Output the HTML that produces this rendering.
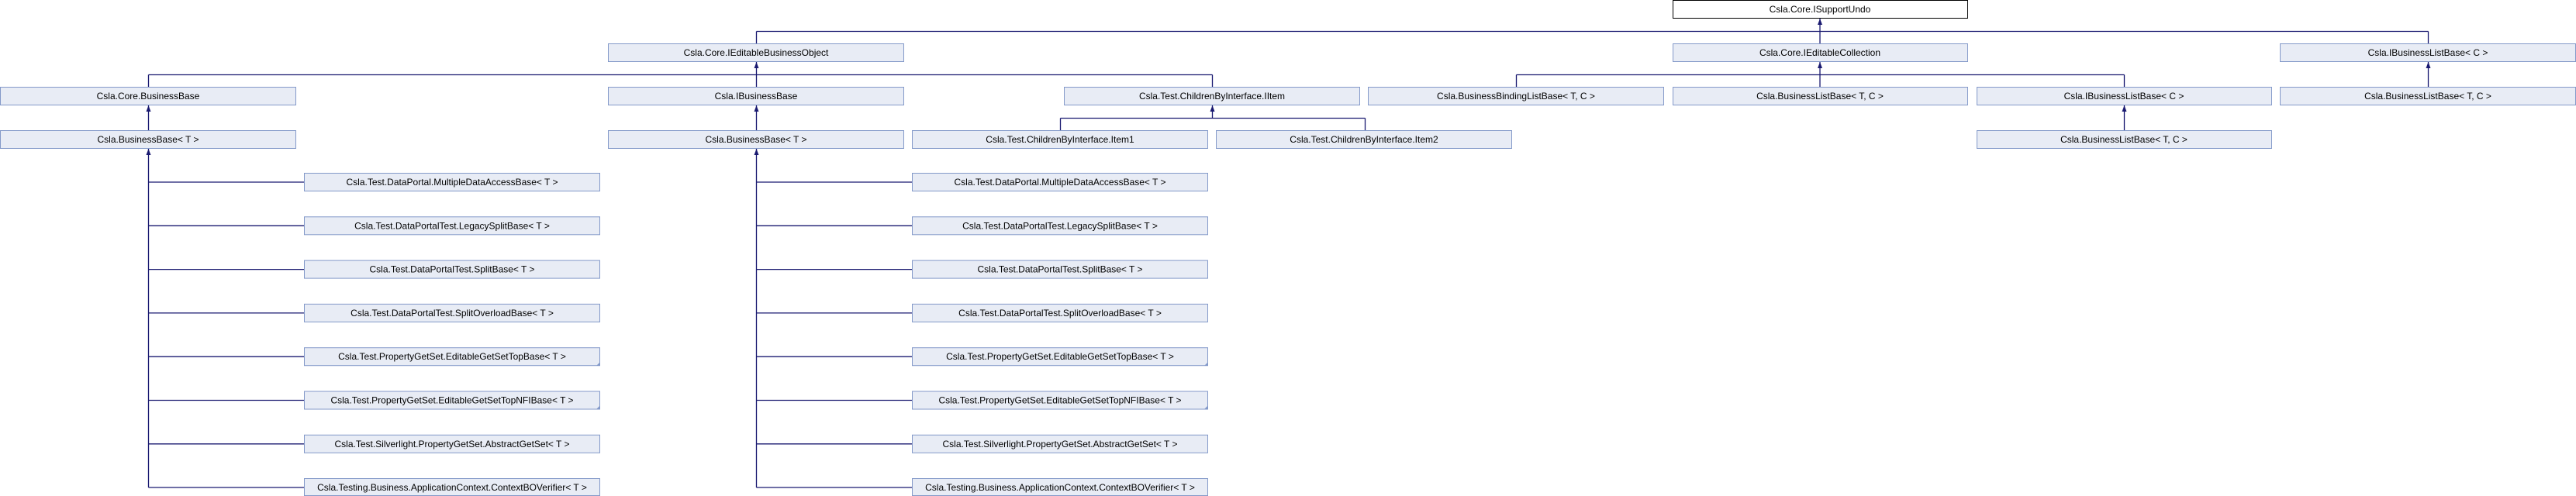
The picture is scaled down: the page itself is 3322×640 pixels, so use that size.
<!DOCTYPE html>
<html><head><meta charset="utf-8"><style>
html,body{margin:0;padding:0;background:#fff;}
svg{display:block;}
text{font-family:"Liberation Sans",Arial,sans-serif;font-size:12px;fill:#000;}
</style></head><body>
<svg width="3322" height="640" viewBox="0 0 3322 640" xmlns="http://www.w3.org/2000/svg">
<g stroke="#191970" stroke-width="1.3" fill="none">
<path d="M2347 24V40.5M975.5 40.5H3131.5M975.5 40.5V56M2347 40.5V56M3131.5 40.5V56"/>
<path d="M975.5 80V96.5M191.5 96.5H1563.5M191.5 96.5V112M975.5 96.5V112M1563.5 96.5V112"/>
<path d="M2347 80V96.5M1955.5 96.5H2739.5M1955.5 96.5V112M2347 96.5V112M2739.5 96.5V112"/>
<path d="M3131.5 80V112"/>
<path d="M191.5 136V168M975.5 136V168M2739.5 136V168"/>
<path d="M1563.5 136V152.5M1367.5 152.5H1760.5M1367.5 152.5V168M1760.5 152.5V168"/>
<path d="M191.5 192V629M975.5 192V629"/>
<path d="M191.5 235H392M191.5 291.3H392M191.5 347.6H392M191.5 403.9H392M191.5 460.2H392M191.5 516.5H392M191.5 572.8H392M191.5 629H392"/>
<path d="M975.5 235H1176M975.5 291.3H1176M975.5 347.6H1176M975.5 403.9H1176M975.5 460.2H1176M975.5 516.5H1176M975.5 572.8H1176M975.5 629H1176"/>
</g>
<g fill="#191970">
<path d="M2347 24l-3 8h6z"/><path d="M975.5 80l-3 8h6z"/><path d="M2347 80l-3 8h6z"/><path d="M3131.5 80l-3 8h6z"/>
<path d="M191.5 136l-3 8h6z"/><path d="M975.5 136l-3 8h6z"/><path d="M2739.5 136l-3 8h6z"/><path d="M1563.5 136l-3 8h6z"/>
<path d="M191.5 192l-3 8h6z"/><path d="M975.5 192l-3 8h6z"/>
</g>
<rect x="2157.5" y="0.5" width="380" height="23" fill="#fff" stroke="#000" stroke-width="1"/>
<text x="2347" y="16" text-anchor="middle">Csla.Core.ISupportUndo</text>
<g fill="#e8ecf5" stroke="#8399c9" stroke-width="1">
<rect x="784.5" y="56.5" width="381" height="23"/>
<rect x="2157.5" y="56.5" width="380" height="23"/>
<rect x="2940.5" y="56.5" width="381" height="23"/>
<rect x="0.5" y="112.5" width="381" height="23"/>
<rect x="784.5" y="112.5" width="381" height="23"/>
<rect x="1372.5" y="112.5" width="381" height="23"/>
<rect x="1764.5" y="112.5" width="381" height="23"/>
<rect x="2157.5" y="112.5" width="380" height="23"/>
<rect x="2549.5" y="112.5" width="380" height="23"/>
<rect x="2940.5" y="112.5" width="381" height="23"/>
<rect x="0.5" y="168.5" width="381" height="23"/>
<rect x="784.5" y="168.5" width="381" height="23"/>
<rect x="1176.5" y="168.5" width="381" height="23"/>
<rect x="1568.5" y="168.5" width="381" height="23"/>
<rect x="2549.5" y="168.5" width="380" height="23"/>
<rect x="392.5" y="223.5" width="381" height="23"/><rect x="392.5" y="279.8" width="381" height="23"/><rect x="392.5" y="336.1" width="381" height="23"/><rect x="392.5" y="392.4" width="381" height="23"/><rect x="392.5" y="448.7" width="381" height="23"/><rect x="392.5" y="505" width="381" height="23"/><rect x="392.5" y="561.3" width="381" height="23"/><rect x="392.5" y="617.5" width="381" height="22"/>
<rect x="1176.5" y="223.5" width="381" height="23"/><rect x="1176.5" y="279.8" width="381" height="23"/><rect x="1176.5" y="336.1" width="381" height="23"/><rect x="1176.5" y="392.4" width="381" height="23"/><rect x="1176.5" y="448.7" width="381" height="23"/><rect x="1176.5" y="505" width="381" height="23"/><rect x="1176.5" y="561.3" width="381" height="23"/><rect x="1176.5" y="617.5" width="381" height="22"/>
</g>
<g fill="#8399c9">
<path d="M774 472v-5l-5 5z"/><path d="M774 528v-5l-5 5z"/><path d="M1558 472v-5l-5 5z"/><path d="M1558 528v-5l-5 5z"/>
</g>
<g text-anchor="middle">
<text x="975" y="72">Csla.Core.IEditableBusinessObject</text>
<text x="2347" y="72">Csla.Core.IEditableCollection</text>
<text x="3131" y="72">Csla.IBusinessListBase&lt; C &gt;</text>
<text x="191" y="128">Csla.Core.BusinessBase</text>
<text x="975" y="128">Csla.IBusinessBase</text>
<text x="1563" y="128">Csla.Test.ChildrenByInterface.IItem</text>
<text x="1955" y="128">Csla.BusinessBindingListBase&lt; T, C &gt;</text>
<text x="2347" y="128">Csla.BusinessListBase&lt; T, C &gt;</text>
<text x="2739" y="128">Csla.IBusinessListBase&lt; C &gt;</text>
<text x="3131" y="128">Csla.BusinessListBase&lt; T, C &gt;</text>
<text x="191" y="184">Csla.BusinessBase&lt; T &gt;</text>
<text x="975" y="184">Csla.BusinessBase&lt; T &gt;</text>
<text x="1367" y="184">Csla.Test.ChildrenByInterface.Item1</text>
<text x="1759" y="184">Csla.Test.ChildrenByInterface.Item2</text>
<text x="2739" y="184">Csla.BusinessListBase&lt; T, C &gt;</text>
</g>
<g text-anchor="middle">
<text x="583" y="239">Csla.Test.DataPortal.MultipleDataAccessBase&lt; T &gt;</text>
<text x="583" y="295.3">Csla.Test.DataPortalTest.LegacySplitBase&lt; T &gt;</text>
<text x="583" y="351.6">Csla.Test.DataPortalTest.SplitBase&lt; T &gt;</text>
<text x="583" y="407.9">Csla.Test.DataPortalTest.SplitOverloadBase&lt; T &gt;</text>
<text x="583" y="464.2">Csla.Test.PropertyGetSet.EditableGetSetTopBase&lt; T &gt;</text>
<text x="583" y="520.5">Csla.Test.PropertyGetSet.EditableGetSetTopNFIBase&lt; T &gt;</text>
<text x="583" y="576.8">Csla.Test.Silverlight.PropertyGetSet.AbstractGetSet&lt; T &gt;</text>
<text x="583" y="633">Csla.Testing.Business.ApplicationContext.ContextBOVerifier&lt; T &gt;</text>
<text x="1367" y="239">Csla.Test.DataPortal.MultipleDataAccessBase&lt; T &gt;</text>
<text x="1367" y="295.3">Csla.Test.DataPortalTest.LegacySplitBase&lt; T &gt;</text>
<text x="1367" y="351.6">Csla.Test.DataPortalTest.SplitBase&lt; T &gt;</text>
<text x="1367" y="407.9">Csla.Test.DataPortalTest.SplitOverloadBase&lt; T &gt;</text>
<text x="1367" y="464.2">Csla.Test.PropertyGetSet.EditableGetSetTopBase&lt; T &gt;</text>
<text x="1367" y="520.5">Csla.Test.PropertyGetSet.EditableGetSetTopNFIBase&lt; T &gt;</text>
<text x="1367" y="576.8">Csla.Test.Silverlight.PropertyGetSet.AbstractGetSet&lt; T &gt;</text>
<text x="1367" y="633">Csla.Testing.Business.ApplicationContext.ContextBOVerifier&lt; T &gt;</text>
</g>
</svg>
</body></html>
